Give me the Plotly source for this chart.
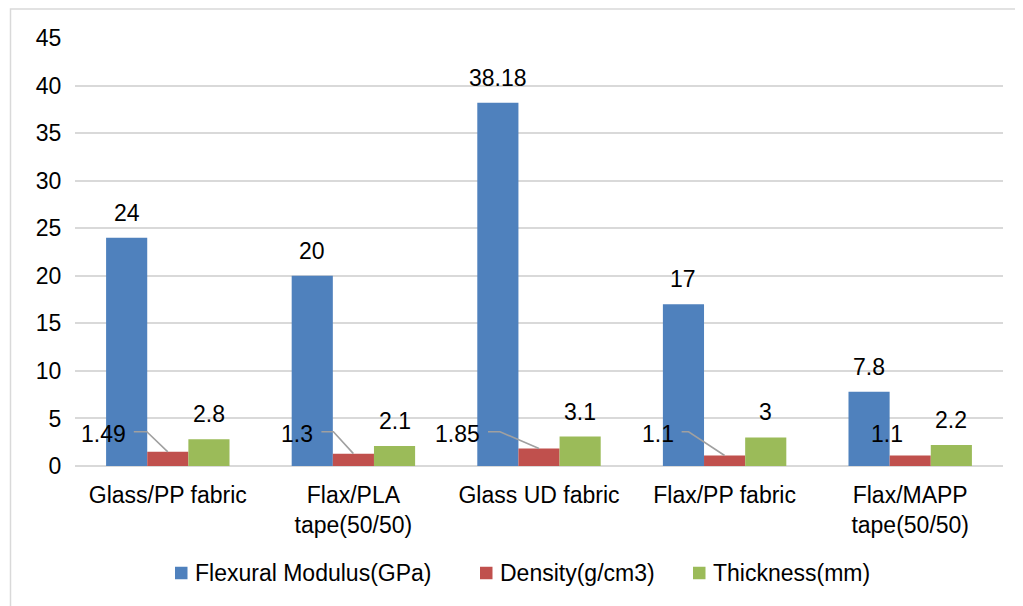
import plotly.graph_objects as go

# ---- data ----
categories = ["Glass/PP fabric", "Flax/PLA<br>tape(50/50)", "Glass UD fabric",
              "Flax/PP fabric", "Flax/MAPP<br>tape(50/50)"]
flexural_modulus = [24, 20, 38.18, 17, 7.8]
density = [1.49, 1.3, 1.85, 1.1, 1.1]
thickness = [2.8, 2.1, 3.1, 3, 2.2]
series_names = ["Flexural Modulus(GPa)", "Density(g/cm3)", "Thickness(mm)"]
y_ticks = [0, 5, 10, 15, 20, 25, 30, 35, 40, 45]

# ---- layout constants (absolute page pixels; the page body has an 8px margin) ----
PAGE_W, PAGE_H, OFF = 1023, 606, 8
W, H = PAGE_W - OFF, PAGE_H - OFF
PX0, PX1, PY0, PY1 = 75, 1003, 38, 466          # plot area in page pixels
ML, MR, MT = PX0 - OFF, W - (PX1 - OFF), PY0 - OFF
MB = H - (PY1 - OFF)
PW, PH = PX1 - PX0, PY1 - PY0
YMAX = 45
BARGAP = 0.335
colors = ["#4F81BD", "#C0504D", "#9BBB59"]
FONT = "Liberation Sans, Arial, sans-serif"
FS = 23

def xp(X):  # page px -> paper x
    return (X - PX0) / PW

def yp(Y):  # page px -> paper y
    return (PY1 - Y) / PH

n = len(categories)
xs = list(range(n))
unit_px = PW / n
bw = (1 - BARGAP) / 3

fig = go.Figure()
for name, vals, col in zip(series_names, [flexural_modulus, density, thickness], colors):
    fig.add_trace(go.Bar(x=xs, y=vals, name=name, showlegend=False,
                         marker=dict(color=col, line=dict(width=0))))

def fmt(v):
    return f"{v:g}"

txtfont = dict(family=FONT, size=FS, color="black")
annotations = []
# labels above flexural modulus and thickness bars
for i in range(n):
    for vals, off in [(flexural_modulus, -bw), (thickness, bw)]:
        annotations.append(dict(x=i + off, y=vals[i], text=fmt(vals[i]), showarrow=False,
                                yshift=25, xanchor="center", yanchor="middle", font=txtfont))

# density labels (moved left, with leader lines)
label_y = 3.4
label_right_px = [-40, -38, -57, -49, None]
leader_start_px = [-34, -32, -51, -43, None]
leader_elbow_px = [-21, -20, -39, -36, None]
leader_y = 3.6
for i in range(n):
    if label_right_px[i] is not None:
        annotations.append(dict(x=i, y=label_y, text=fmt(density[i]), showarrow=False,
                                xshift=label_right_px[i], xanchor="right", yanchor="middle",
                                font=txtfont))
        fig.add_trace(go.Scatter(
            x=[i + leader_start_px[i] / unit_px, i + leader_elbow_px[i] / unit_px, i],
            y=[leader_y, leader_y, density[i]],
            mode="lines", line=dict(color="#a0a0a0", width=1.6),
            showlegend=False, hoverinfo="skip"))
    else:
        annotations.append(dict(x=i, y=label_y, text=fmt(density[i]), showarrow=False,
                                xshift=-23, xanchor="center", yanchor="middle", font=txtfont))

# outer chart border
shapes = [dict(type="rect", xref="paper", yref="paper",
               x0=xp(10.5), x1=xp(PAGE_W + 20), y0=yp(PAGE_H + 20), y1=yp(9),
               line=dict(color="#d9d9d9", width=1.5), fillcolor="rgba(0,0,0,0)", layer="below")]

# custom legend (square markers + text)
legend_sq_x = [175, 480, 693]
legend_txt_x = [193, 498, 711]
legend_y = 573
SQ = 12.5
for name, col, sx, tx in zip(series_names, colors, legend_sq_x, legend_txt_x):
    shapes.append(dict(type="rect", xref="paper", yref="paper",
                       x0=xp(sx), x1=xp(sx + SQ), y0=yp(legend_y + SQ / 2), y1=yp(legend_y - SQ / 2),
                       line=dict(width=0), fillcolor=col))
    annotations.append(dict(xref="paper", yref="paper", x=xp(tx), y=yp(legend_y), text=name,
                            showarrow=False, xanchor="left", yanchor="middle", font=txtfont))

fig.update_layout(
    width=W, height=H,
    margin=dict(l=ML, r=MR, t=MT, b=MB),
    paper_bgcolor="white", plot_bgcolor="white",
    barmode="group", bargap=BARGAP, bargroupgap=0,
    font=txtfont, showlegend=False,
    annotations=annotations, shapes=shapes,
    xaxis=dict(range=[-0.5, n - 0.5], tickvals=xs, ticktext=categories,
               showgrid=False, zeroline=False, showline=False,
               ticks="outside", ticklen=8, tickcolor="rgba(0,0,0,0)",
               tickfont=txtfont),
    yaxis=dict(range=[0, YMAX], tickvals=y_ticks, showgrid=True, gridcolor="#d9d9d9",
               gridwidth=1.5, zeroline=True, zerolinecolor="#d9d9d9", zerolinewidth=1.5,
               showline=False, ticks="outside", ticklen=8, tickcolor="rgba(0,0,0,0)",
               tickfont=txtfont),
)

fig.write_html("out.html")
